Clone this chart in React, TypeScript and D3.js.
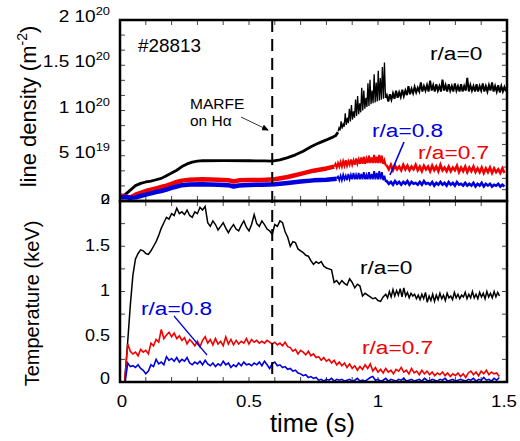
import React from 'react';
import * as d3 from 'd3';

type P = [number, number];
// regular sampling grid helper (times only)
const grid = (t0: number, dt: number, vals: number[]): P[] =>
  vals.map((v, i) => [+(t0 + i * dt).toFixed(4), v] as P);

// ---------- axis / tick data ----------
const TIME_TICKS = [0, 0.5, 1, 1.5];
const TIME_LABELS = ['0', '0.5', '1', '1.5'];
const DENS_TICKS = [0.5, 1, 1.5, 2]; // units of 1e20 m^-2
const DENS_MANT = ['5 10', '1 10', '1.5 10', '2 10'];
const DENS_EXP = ['19', '20', '20', '20'];
const TEMP_TICKS = [0.5, 1, 1.5];
const TEMP_LABELS = ['0.5', '1', '1.5'];
const MARFE_T = 0.59;
const SHOT = '#28813';

// ---------- top panel: line density (1e20 m^-2) ----------
const DENS0_SMOOTH: P[] = [[0,0.05],[0.02,0.07],[0.04,0.12],[0.06,0.17],[0.08,0.195],[0.1,0.21],[0.12,0.22],[0.14,0.235],[0.16,0.25],[0.18,0.28],[0.2,0.31],[0.22,0.34],[0.24,0.38],[0.26,0.41],[0.28,0.43],[0.3,0.44],[0.32,0.445],[0.4,0.447],[0.5,0.445],[0.56,0.443],[0.59,0.44],[0.62,0.455],[0.65,0.48],[0.68,0.51],[0.71,0.55],[0.74,0.6],[0.77,0.64],[0.8,0.675],[0.82,0.7],[0.835,0.72],[0.845,0.76]];
const DENS0_SPIKES = grid(0.845, 0.004, [0.77,0.81,0.78,0.88,0.80,0.85,0.82,0.97,0.84,0.92,0.86,1.02,0.88,1.06,0.90,0.99,0.92,1.12,0.94,1.16,0.96,1.08,0.98,1.25,1.00,1.22,1.02,1.14,1.04,1.30,1.05,1.34,1.07,1.22,1.08,1.40,1.09,1.31,1.10,1.44,1.11,1.36,1.12,1.48,1.13,1.53,1.14]);
const DENS0_TAIL = grid(1.034, 0.006, [1.17,1.10,1.18,1.12,1.19,1.13,1.22,1.14,1.20,1.15,1.23,1.16,1.22,1.17,1.27,1.18,1.24,1.19,1.26,1.20,1.25,1.21,1.31,1.21,1.27,1.22,1.28,1.21,1.33,1.22,1.28,1.21,1.29,1.22,1.27,1.21,1.34,1.22,1.28,1.21,1.29,1.22,1.27,1.21,1.30,1.22,1.27,1.21,1.29,1.21,1.27,1.22,1.36,1.21,1.28,1.22,1.27,1.21,1.29,1.21,1.27,1.22,1.30,1.21,1.27,1.21,1.28,1.22,1.31,1.21,1.27,1.21,1.28,1.20,1.27,1.21,1.26,1.21]);

const DENS7_SMOOTH: P[] = [[0,0.06],[0.02,0.05],[0.04,0.04],[0.06,0.07],[0.08,0.09],[0.1,0.11],[0.12,0.125],[0.14,0.14],[0.16,0.155],[0.18,0.17],[0.2,0.19],[0.22,0.21],[0.24,0.225],[0.27,0.235],[0.32,0.24],[0.38,0.235],[0.42,0.23],[0.44,0.215],[0.46,0.228],[0.5,0.232],[0.55,0.232],[0.6,0.24],[0.65,0.265],[0.7,0.3],[0.75,0.335],[0.8,0.36],[0.83,0.38]];
const DENS7_SPIKES = grid(0.83, 0.005, [0.38,0.41,0.37,0.42,0.38,0.43,0.38,0.44,0.39,0.45,0.39,0.44,0.40,0.46,0.40,0.45,0.40,0.47,0.41,0.46,0.41,0.48,0.41,0.49,0.41,0.47,0.42,0.50,0.42,0.48,0.42,0.51,0.42,0.49,0.42,0.51,0.42,0.50,0.41,0.45,0.39]);
const DENS7_TAIL = grid(1.034, 0.008, [0.39,0.35,0.40,0.34,0.39,0.35,0.38,0.34,0.40,0.35,0.39,0.34,0.38,0.35,0.40,0.34,0.38,0.33,0.39,0.35,0.38,0.33,0.39,0.34,0.38,0.33,0.40,0.34,0.37,0.33,0.38,0.33,0.37,0.34,0.39,0.32,0.37,0.33,0.38,0.32,0.37,0.33,0.38,0.32,0.36,0.32,0.37,0.31,0.36,0.32,0.37,0.31,0.36,0.32,0.35,0.31,0.36,0.31]);

const DENS8_SMOOTH: P[] = [[0,0.04],[0.02,0.045],[0.04,0.035],[0.06,0.04],[0.08,0.055],[0.1,0.07],[0.12,0.085],[0.14,0.1],[0.16,0.11],[0.18,0.125],[0.2,0.145],[0.22,0.16],[0.24,0.175],[0.27,0.183],[0.32,0.185],[0.38,0.18],[0.42,0.175],[0.44,0.16],[0.46,0.172],[0.5,0.178],[0.55,0.18],[0.6,0.185],[0.65,0.2],[0.7,0.215],[0.75,0.228],[0.8,0.236],[0.84,0.245]];
const DENS8_SPIKES = grid(0.84, 0.005, [0.25,0.27,0.23,0.28,0.23,0.29,0.24,0.28,0.23,0.30,0.24,0.29,0.24,0.31,0.24,0.29,0.24,0.31,0.24,0.30,0.24,0.32,0.24,0.29,0.24,0.32,0.24,0.30,0.24,0.33,0.24,0.31,0.24,0.33,0.24,0.32,0.23,0.28,0.21]);
const DENS8_TAIL = grid(1.034, 0.008, [0.22,0.19,0.21,0.18,0.22,0.19,0.21,0.18,0.21,0.19,0.22,0.18,0.21,0.19,0.20,0.18,0.21,0.18,0.22,0.19,0.20,0.18,0.21,0.17,0.20,0.18,0.21,0.18,0.20,0.17,0.21,0.18,0.20,0.17,0.21,0.18,0.19,0.17,0.20,0.17,0.19,0.17,0.20,0.16,0.19,0.17,0.20,0.16,0.19,0.17,0.19,0.16,0.18,0.17,0.19,0.16,0.18,0.16]);

// ---------- bottom panel: temperature (keV) ----------
const TEMP0_START: P[] = [[0.018, 0]];
const TEMP0_RISE = grid(0.03, 0.01, [0.45,0.85,1.18,1.36,1.42,1.46,1.45,1.42,1.41,1.45,1.50,1.55,1.62,1.70,1.76,1.82,1.80,1.86,1.84,1.92,1.86,1.88,1.85,1.90,1.84,1.82,1.88,1.86,1.93,1.90,1.94,1.76,1.72,1.78,1.74,1.68,1.72,1.76,1.70,1.65,1.70,1.74,1.69,1.67,1.73,1.78,1.71,1.67,1.74,1.85,1.75,1.72,1.78,1.74,1.69,1.67,1.63,1.74,1.72,1.78,1.76,1.66,1.60,1.50,1.55,1.54,1.47,1.45,1.43,1.40,1.39,1.34,1.30,1.33,1.31,1.33,1.28,1.26,1.25,1.24,1.10,1.12,1.08,1.12,1.09,1.07,1.14,1.10,1.04,1.08,1.06,0.95,0.98,0.96,0.94,0.92,0.93,0.90,0.89,0.94]);
const TEMP0_TAIL = grid(1.03, 0.007, [0.97,0.93,1.00,0.94,1.02,0.95,1.01,0.96,1.03,0.94,1.04,0.95,0.99,0.93,0.98,0.95,0.97,0.92,0.96,0.91,0.97,0.92,0.99,0.88,0.95,0.90,0.97,0.89,0.96,0.91,0.98,0.92,0.96,0.90,0.98,0.93,0.95,0.91,0.99,0.93,0.97,0.92,0.96,0.94,0.99,0.92,0.97,0.93,1.00,0.93,0.97,0.92,0.99,0.94,0.98,0.92,1.00,0.94,0.98,0.93,1.00,0.94,0.99,0.95]);

const TEMP7_START: P[] = [[0.018, 0], [0.025, 0.25]];
const TEMP7 = grid(0.03, 0.01, [0.42,0.34,0.31,0.33,0.29,0.36,0.33,0.35,0.31,0.43,0.40,0.47,0.44,0.58,0.48,0.52,0.55,0.50,0.54,0.48,0.51,0.46,0.49,0.42,0.47,0.44,0.40,0.45,0.39,0.46,0.50,0.43,0.47,0.41,0.48,0.42,0.45,0.40,0.50,0.42,0.47,0.41,0.46,0.42,0.45,0.43,0.48,0.42,0.47,0.44,0.46,0.43,0.45,0.43,0.46,0.44,0.42,0.44,0.41,0.43,0.40,0.44,0.39,0.38,0.34,0.36,0.31,0.35,0.33,0.30,0.34,0.29,0.31,0.27,0.28,0.24,0.27,0.23,0.25,0.21,0.24,0.19,0.22,0.18,0.21,0.16,0.20,0.15,0.18,0.13,0.17,0.14,0.19,0.15,0.20,0.12,0.16,0.11,0.14,0.10,0.15,0.11,0.13,0.09,0.14,0.12,0.16,0.11,0.13,0.09,0.15,0.10,0.12,0.08,0.13,0.09,0.12,0.08,0.11,0.07,0.10,0.08,0.11,0.07,0.10,0.06,0.09,0.07,0.10,0.06,0.09,0.05,0.10,0.12,0.08,0.11,0.07,0.12,0.09,0.13,0.08,0.11,0.09,0.10,0.06]);

const TEMP8_START: P[] = [[0.02, 0]];
const TEMP8 = grid(0.03, 0.01, [0.21,0.17,0.18,0.16,0.19,0.15,0.13,0.09,0.12,0.19,0.17,0.25,0.20,0.22,0.19,0.28,0.24,0.26,0.23,0.27,0.22,0.25,0.23,0.27,0.21,0.19,0.22,0.20,0.23,0.19,0.24,0.20,0.18,0.21,0.17,0.20,0.18,0.23,0.19,0.21,0.16,0.19,0.17,0.21,0.18,0.22,0.19,0.20,0.18,0.21,0.19,0.22,0.18,0.23,0.19,0.15,0.20,0.22,0.18,0.19,0.16,0.17,0.14,0.15,0.12,0.13,0.10,0.09,0.07,0.08,0.05,0.06,0.04,0.05,0.02,0.03,0.01,0.03,0.02,0.04,0.01,0.03,0.02,0.03,0.01,0.02,0.03,0.01,0.02,0.04,0.01,0.02,0.01,0.03,0.05,0.06,0.02,0.03,0.01,0.02,0.04,0.01,0.03,0.02,0.01,0.03,0.02,0.04,0.01,0.02,0.03,0.01,0.02,0.03,0.01,0.04,0.02,0.01,0.03,0.02,0.01,0.03,0.02,0.04,0.01,0.02,0.03,0.01,0.02,0.03,0.02,0.01,0.03,0.02,0.04,0.01,0.03,0.02,0.05,0.02,0.03,0.01,0.04,0.02,0.05]);

// ---------- layout ----------
const W = 520, H = 441;
const L = 120, R = 507, T1 = 20, B1 = 201, B2 = 382;
const FONT = "'Liberation Sans', Arial, Helvetica, sans-serif";
const RED = '#f00000';
const BLUE = '#0000dd';

const x = d3.scaleLinear().domain([0, 1.5]).range([L, R]);
const yD = d3.scaleLinear().domain([0, 2]).range([B1, T1]);
const yT = d3.scaleLinear().domain([0, 2]).range([B2, B1]);

const mk = (ys: d3.ScaleLinear<number, number>) =>
  d3.line<P>().x(d => x(d[0])).y(d => ys(d[1]));
const lineD = mk(yD);
const lineT = mk(yT);

function Txt(props: { x: number; y: number; size: number; sx?: number; fill?: string; anchor?: string; children: React.ReactNode }) {
  const { x: tx, y: ty, size, sx = 1, fill = '#000', anchor = 'start', children } = props;
  return (
    <text transform={`translate(${tx},${ty}) scale(${sx},1)`} fontSize={size} fill={fill}
      textAnchor={anchor as any} fontFamily={FONT}>{children}</text>
  );
}

export default function App() {
  const xMinor = d3.range(1, 15).map(i => i / 10);
  const dLeft = d3.range(1, 12).map(i => i / 6);
  const dRight = d3.range(1, 16).map(i => i / 8);
  const tMinor = d3.range(1, 8).map(i => i / 4);
  const tick = { stroke: '#444', strokeWidth: 1 };
  const TL = 5;
  const lastOf = (a: P[]) => [a[a.length - 1]];

  return (
    <svg width={W} height={H} style={{ position: 'absolute', left: 0, top: 0, background: '#fff' }}>
      <defs>
        <marker id="ah" markerUnits="userSpaceOnUse" markerWidth={7} markerHeight={6} refX={6} refY={3} orient="auto">
          <path d="M0,0 L7,3 L0,6 z" fill="#000" />
        </marker>
      </defs>

      {/* ticks */}
      {xMinor.map(t => (
        <g key={'xt' + t}>
          <line x1={x(t)} x2={x(t)} y1={T1} y2={T1 + TL} {...tick} />
          <line x1={x(t)} x2={x(t)} y1={B1} y2={B1 - TL} {...tick} />
          <line x1={x(t)} x2={x(t)} y1={B1} y2={B1 + TL} {...tick} />
          <line x1={x(t)} x2={x(t)} y1={B2} y2={B2 - TL} {...tick} />
        </g>
      ))}
      {dLeft.map(v => <line key={'dl' + v} x1={L} x2={L + TL} y1={yD(v)} y2={yD(v)} {...tick} />)}
      {dRight.map(v => <line key={'dr' + v} x1={R} x2={R - TL} y1={yD(v)} y2={yD(v)} {...tick} />)}
      {tMinor.map(v => (
        <g key={'tm' + v}>
          <line x1={L} x2={L + TL} y1={yT(v)} y2={yT(v)} {...tick} />
          <line x1={R} x2={R - TL} y1={yT(v)} y2={yT(v)} {...tick} />
        </g>
      ))}

      {/* top panel data */}
      <path d={lineD(DENS0_SMOOTH)!} fill="none" stroke="#000" strokeWidth={2.8} strokeLinejoin="round" />
      <path d={lineD(DENS0_SPIKES)!} fill="none" stroke="#000" strokeWidth={1.3} />
      <path d={lineD([...lastOf(DENS0_SPIKES), ...DENS0_TAIL])!} fill="none" stroke="#000" strokeWidth={2.0} />
      <path d={lineD(DENS7_SMOOTH)!} fill="none" stroke={RED} strokeWidth={4.5} strokeLinejoin="round" />
      <path d={lineD(DENS7_SPIKES)!} fill="none" stroke={RED} strokeWidth={2} />
      <path d={lineD([...lastOf(DENS7_SPIKES), ...DENS7_TAIL])!} fill="none" stroke={RED} strokeWidth={2.6} />
      <path d={lineD(DENS8_SMOOTH)!} fill="none" stroke={BLUE} strokeWidth={4.5} strokeLinejoin="round" />
      <path d={lineD(DENS8_SPIKES)!} fill="none" stroke={BLUE} strokeWidth={1.8} />
      <path d={lineD([...lastOf(DENS8_SPIKES), ...DENS8_TAIL])!} fill="none" stroke={BLUE} strokeWidth={2.6} />

      {/* bottom panel data */}
      <path d={lineT([...TEMP0_START, ...TEMP0_RISE, ...TEMP0_TAIL])!} fill="none" stroke="#000" strokeWidth={1.5} />
      <path d={lineT([...TEMP7_START, ...TEMP7])!} fill="none" stroke={RED} strokeWidth={1.6} />
      <path d={lineT([...TEMP8_START, ...TEMP8])!} fill="none" stroke={BLUE} strokeWidth={1.6} />

      {/* MARFE dashed line */}
      <line x1={x(MARFE_T)} x2={x(MARFE_T)} y1={T1} y2={B2} stroke="#000" strokeWidth={2} strokeDasharray="12 7" />

      {/* frames */}
      <rect x={L} y={T1} width={R - L} height={B1 - T1} fill="none" stroke="#000" strokeWidth={2.5} />
      <rect x={L} y={B1} width={R - L} height={B2 - B1} fill="none" stroke="#000" strokeWidth={2.5} />

      {/* x tick labels */}
      {TIME_TICKS.map((t, i) => (
        <Txt key={'xl' + t} x={x(t) + (i === 0 ? 2 : i === 3 ? -3 : 0)} y={407} size={17} sx={1.1} anchor="middle">{TIME_LABELS[i]}</Txt>
      ))}
      {/* density labels */}
      {DENS_TICKS.map((v, i) => (
        <Txt key={'dy' + v} x={110} y={yD(v) + 2} size={17} sx={1.12} anchor="end">
          {DENS_MANT[i]}<tspan dy={-7} fontSize={11.5}>{DENS_EXP[i]}</tspan>
        </Txt>
      ))}
      <Txt x={110} y={204} size={15} sx={1.1} anchor="end">0</Txt>
      <Txt x={110} y={204} size={15} sx={1.1} anchor="end">2</Txt>
      {/* temperature labels */}
      {TEMP_TICKS.map((v, i) => (
        <Txt key={'ty' + v} x={110} y={yT(v) + 4.5} size={17} sx={1.06} anchor="end">{TEMP_LABELS[i]}</Txt>
      ))}
      <Txt x={110} y={yT(0) + 2} size={17} sx={1.06} anchor="end">0</Txt>

      {/* axis titles */}
      <text transform="translate(36,106.5) rotate(-90)" fontSize={22} fontFamily={FONT} textAnchor="middle">
        line density (m<tspan dy={-9} fontSize={14}>-2</tspan><tspan dy={9}>)</tspan>
      </text>
      <text transform="translate(39,303.5) rotate(-90)" fontSize={20} fontFamily={FONT} textAnchor="middle">Temperature (keV)</text>
      <Txt x={312.5} y={432} size={25} sx={1.02} anchor="middle">time (s)</Txt>

      {/* annotations */}
      <Txt x={138} y={52} size={18} sx={1.05}>{SHOT}</Txt>
      <Txt x={190} y={109} size={15.5}>MARFE</Txt>
      <Txt x={190} y={126} size={15.5}>on Hα</Txt>
      <line x1={241} y1={117} x2={268} y2={130} stroke="#000" strokeWidth={0.8} markerEnd="url(#ah)" />

      <Txt x={430} y={60} size={18.6} sx={1.22}>r/a=0</Txt>
      <Txt x={372} y={137} size={18.6} sx={1.22} fill={BLUE}>r/a=0.8</Txt>
      <line x1={404} y1={142} x2={390} y2={175} stroke={BLUE} strokeWidth={1.6} />
      <Txt x={418} y={159} size={18.6} sx={1.22} fill={RED}>r/a=0.7</Txt>

      <Txt x={360} y={274} size={18.6} sx={1.22}>r/a=0</Txt>
      <Txt x={362} y={354} size={18.6} sx={1.22} fill={RED}>r/a=0.7</Txt>
      <Txt x={141} y={315} size={18.6} sx={1.22} fill={BLUE}>r/a=0.8</Txt>
      <line x1={174} y1={316} x2={207} y2={355} stroke={BLUE} strokeWidth={1.2} />
    </svg>
  );
}
